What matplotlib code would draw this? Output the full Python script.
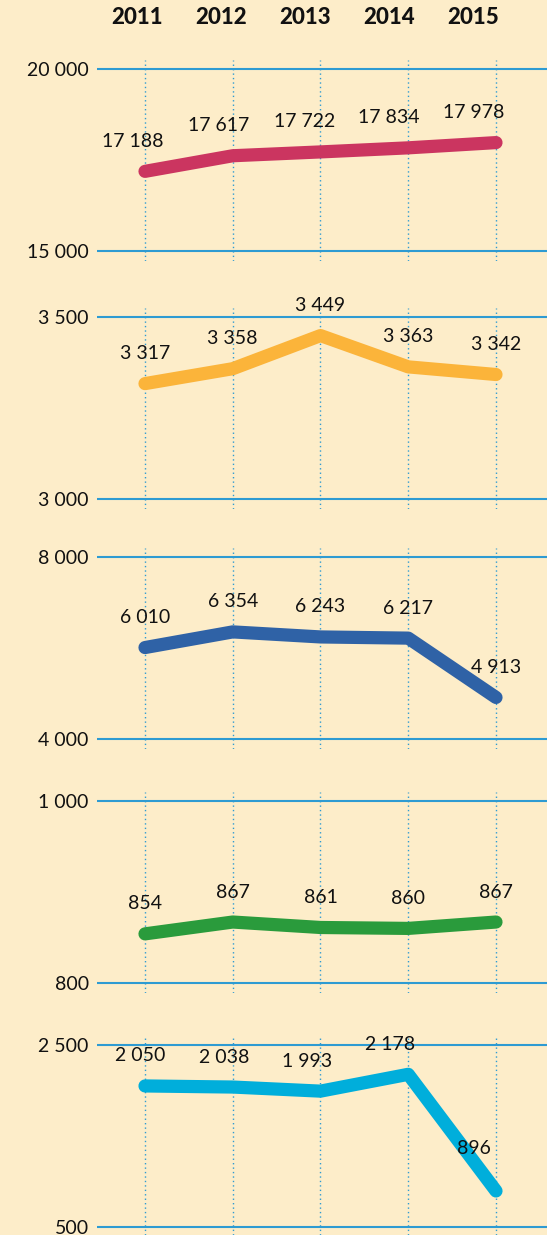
import matplotlib
matplotlib.use("Agg")
import matplotlib.pyplot as plt

years = [2011, 2012, 2013, 2014, 2015]
series_red = [17188, 17617, 17722, 17834, 17978]
series_orange = [3317, 3358, 3449, 3363, 3342]
series_blue = [6010, 6354, 6243, 6217, 4913]
series_green = [854, 867, 861, 860, 867]
series_cyan = [2050, 2038, 1993, 2178, 896]

ranges = [(15000, 20000), (3000, 3500), (4000, 8000), (800, 1000), (500, 2500)]
tick_labels = [("15 000", "20 000"), ("3 000", "3 500"), ("4 000", "8 000"),
               ("800", "1 000"), ("500", "2 500")]
all_series = [series_red, series_orange, series_blue, series_green, series_cyan]
colors = ["#CB3560", "#FBB43A", "#2F62A6", "#2A9B3C", "#00AEDB"]

BG = "#FDEDC9"
GRID = "#2E9BD2"
W, H = 547, 1235
DPI = 100

plt.rcParams['font.family'] = ['Lato', 'DejaVu Sans']
fig = plt.figure(figsize=(W / DPI, H / DPI), dpi=DPI, facecolor=BG)

# layout: pixel positions of top and bottom grid lines per panel
grid_px = [(69, 251), (317, 499), (557, 739), (801, 983), (1045, 1227)]
x_left_px, x_right_px = 97, 547
px_per_year = 87.75
x0_px = 145
xlim = (years[0] - (x0_px - x_left_px) / px_per_year,
        years[0] + (x_right_px - x0_px) / px_per_year)
# layout: horizontal label shifts (pixels) per panel
label_shift_px = [[-12, -14, -16, -19, -22],
                  [0, 0, 0, 0, 0],
                  [0, 0, 0, 0, 0],
                  [0, 0, 0, 0, 0],
                  [-5, -9, -13, -18, -22]]
year_px = [137, 221, 305, 389, 473]

def fmt(v):
    return f"{v:,}".replace(",", " ")

for i, (vals, (lo, hi), (tl_lo, tl_hi), col) in enumerate(zip(all_series, ranges, tick_labels, colors)):
    top_px, bot_px = grid_px[i]
    ax_top = top_px - 9
    ax_bot = min(bot_px + 10, H)
    span = hi - lo
    ppv = (bot_px - top_px) / span
    ylim = (lo - (ax_bot - bot_px) / ppv, hi + (top_px - ax_top) / ppv)
    ax = fig.add_axes([x_left_px / W, 1 - ax_bot / H, (x_right_px - x_left_px) / W, (ax_bot - ax_top) / H])
    ax.set_facecolor(BG)
    ax.patch.set_alpha(0)
    ax.set_xlim(*xlim)
    ax.set_ylim(*ylim)
    for s in ax.spines.values():
        s.set_visible(False)
    ax.set_xticks([])
    ax.set_yticks([lo, hi])
    ax.set_yticklabels([tl_lo, tl_hi], fontsize=14, color="#111111")
    ax.tick_params(axis='y', length=0, pad=6)
    for y in (lo, hi):
        ax.axhline(y, color=GRID, lw=1.5, zorder=1)
    for x in years:
        ax.axvline(x, color=GRID, lw=1.0, ls=(0, (1, 2.2)), zorder=1)
    ax.plot(years, vals, color=col, lw=9.5, solid_capstyle='round', solid_joinstyle='round', zorder=3)
    for j, (x, v) in enumerate(zip(years, vals)):
        off = 30 if v != 896 else 42
        dx = label_shift_px[i][j]
        ax.annotate(fmt(v), (x, v), xytext=(dx * 72 / DPI, off * 72 / DPI), textcoords='offset points',
                    ha='center', va='center', fontsize=14, color="#111111", zorder=4, annotation_clip=False)

for j, x in enumerate(years):
    fig.text(year_px[j] / W, 1 - 18 / H, str(x), ha='center', va='center', fontsize=16,
             fontweight='black', color="#111111")

fig.savefig("out.png", dpi=DPI, facecolor=BG)
